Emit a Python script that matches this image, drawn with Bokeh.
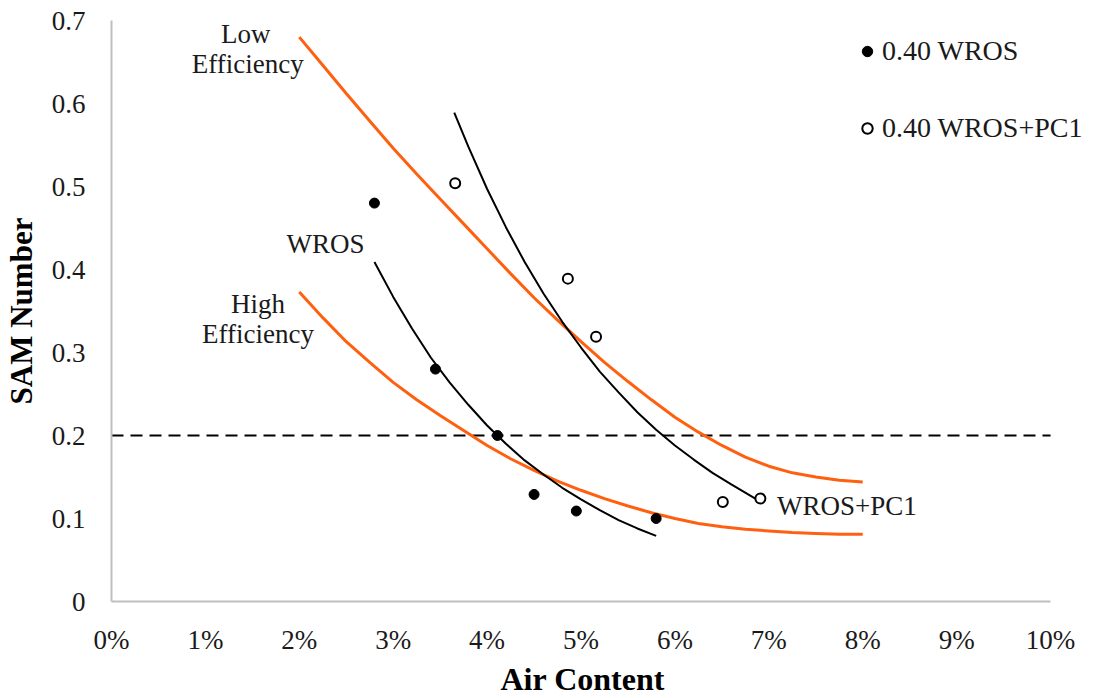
from bokeh.plotting import figure
from bokeh.models import Range1d, FixedTicker, Label, Legend, LegendItem, Title
from bokeh.embed import file_html
from bokeh.resources import INLINE

# ---- data ----
x_ticks = [0, 1, 2, 3, 4, 5, 6, 7, 8, 9, 10]
x_tick_labels = ["0%", "1%", "2%", "3%", "4%", "5%", "6%", "7%", "8%", "9%", "10%"]
y_ticks = [0, 0.1, 0.2, 0.3, 0.4, 0.5, 0.6, 0.7]
y_tick_labels = ["0", "0.1", "0.2", "0.3", "0.4", "0.5", "0.6", "0.7"]

wros_x = [2.80, 3.45, 4.11, 4.50, 4.95, 5.80]
wros_y = [0.480, 0.280, 0.200, 0.129, 0.109, 0.100]

pc1_x = [3.66, 4.86, 5.16, 6.51, 6.91]
pc1_y = [0.504, 0.389, 0.319, 0.120, 0.124]

wros_fit_x = [2.8, 3.0, 3.2, 3.4, 3.6, 3.8, 4.0, 4.2, 4.4, 4.6, 4.8, 5.0, 5.2, 5.4, 5.6, 5.8]
wros_fit_y = [0.409, 0.367, 0.329, 0.294, 0.264, 0.237, 0.212, 0.190, 0.170, 0.153,
              0.137, 0.123, 0.110, 0.098, 0.088, 0.079]

pc1_fit_x = [3.65, 3.8, 4.0, 4.2, 4.4, 4.6, 4.8, 5.0, 5.2, 5.4, 5.6, 5.8, 6.0, 6.2, 6.4, 6.6, 6.87]
pc1_fit_y = [0.589, 0.548, 0.497, 0.451, 0.409, 0.371, 0.337, 0.306, 0.277, 0.252, 0.228,
             0.207, 0.188, 0.171, 0.155, 0.141, 0.123]

low_eff_x = [2.0, 2.25, 2.5, 2.75, 3.0, 3.25, 3.5, 3.75, 4.0, 4.25, 4.5, 4.75, 5.0,
             5.25, 5.5, 5.75, 6.0, 6.25, 6.5, 6.75, 7.0, 7.25, 7.5, 7.75, 8.0]
low_eff_y = [0.680, 0.646, 0.612, 0.579, 0.546, 0.515, 0.485, 0.455, 0.425, 0.395, 0.366,
             0.339, 0.313, 0.288, 0.265, 0.243, 0.222, 0.204, 0.188, 0.174, 0.163, 0.155,
             0.150, 0.146, 0.144]

high_eff_x = [2.0, 2.25, 2.5, 2.75, 3.0, 3.25, 3.5, 3.75, 4.0, 4.25, 4.5, 4.75, 5.0,
              5.25, 5.5, 5.75, 6.0, 6.25, 6.5, 6.75, 7.0, 7.25, 7.5, 7.75, 8.0]
high_eff_y = [0.373, 0.342, 0.313, 0.288, 0.264, 0.243, 0.224, 0.206, 0.188, 0.172, 0.158,
              0.145, 0.134, 0.124, 0.115, 0.107, 0.100, 0.094, 0.090, 0.087, 0.085, 0.083,
              0.082, 0.081, 0.081]

threshold_x = [0, 10]
threshold_y = [0.2, 0.2]

SERIF = "Liberation Serif"
ORANGE = "#FF6010"

p = figure(width=1100, height=698, output_backend="svg", toolbar_location=None,
           x_range=Range1d(0, 10.5), y_range=Range1d(0, 0.7),
           min_border_left=111, min_border_right=3, min_border_top=20, min_border_bottom=92)
p.outline_line_color = None
p.grid.visible = False
p.background_fill_color = "white"
p.border_fill_color = "white"

for ax in (p.xaxis[0], p.yaxis[0]):
    ax.axis_line_color = "#BFBFBF"
    ax.axis_line_width = 2
    ax.major_tick_out = 0
    ax.major_tick_in = 0
    ax.minor_tick_out = 0
    ax.minor_tick_in = 0
    ax.major_label_text_font = SERIF
    ax.major_label_text_font_size = "27px"
    ax.major_label_text_color = "#1a1a1a"
    ax.axis_label_text_font = SERIF
    ax.axis_label_text_font_size = "31px"
    ax.axis_label_text_font_style = "bold"
    ax.axis_label_text_color = "black"

p.xaxis.bounds = (0, 10)
p.xaxis.ticker = FixedTicker(ticks=x_ticks)
p.xaxis.major_label_overrides = {t: l for t, l in zip(x_ticks, x_tick_labels)}
p.yaxis.ticker = FixedTicker(ticks=y_ticks)
p.yaxis.major_label_overrides = {t: l for t, l in zip(y_ticks, y_tick_labels)}
p.yaxis.axis_label = "SAM Number"
p.xaxis.major_label_standoff = 23
p.yaxis.major_label_standoff = 26
p.yaxis.axis_label_standoff = 10

p.add_layout(Title(text="Air Content", align="left", offset=389, standoff=3,
                   text_font=SERIF, text_font_size="32px", text_font_style="bold",
                   text_color="black"), "below")

p.line(threshold_x, threshold_y, line_color="black", line_width=2, line_dash="12 7")

p.line(low_eff_x, low_eff_y, line_color=ORANGE, line_width=3)
p.line(high_eff_x, high_eff_y, line_color=ORANGE, line_width=3)
p.line(wros_fit_x, wros_fit_y, line_color="black", line_width=2)
p.line(pc1_fit_x, pc1_fit_y, line_color="black", line_width=2)

r1 = p.scatter(wros_x, wros_y, marker="circle", size=10, fill_color="black", line_color="black")
r2 = p.scatter(pc1_x, pc1_y, marker="circle", size=10, fill_color="white",
               line_color="black", line_width=2)

legend = Legend(items=[LegendItem(label="0.40 WROS", renderers=[r1]),
                       LegendItem(label="0.40 WROS+PC1", renderers=[r2])],
                location=(743, 457), orientation="vertical",
                border_line_color=None, background_fill_alpha=0,
                padding=0, margin=0, spacing=45,
                glyph_width=26, glyph_height=26, label_standoff=2,
                label_text_font=SERIF, label_text_font_size="28px",
                label_text_color="#1a1a1a", label_text_baseline="middle")
p.add_layout(legend)

def note(x, y, text):
    p.add_layout(Label(x=x, y=y, text=text, text_align="center", text_baseline="middle",
                       text_font=SERIF, text_font_size="27px", text_color="#1a1a1a"))

note(1.43, 0.684, "Low")
note(1.45, 0.647, "Efficiency")
note(2.28, 0.431, "WROS")
note(1.56, 0.359, "High")
note(1.56, 0.322, "Efficiency")
note(7.83, 0.1146, "WROS+PC1")

open("out.html", "w").write(file_html(p, INLINE))
